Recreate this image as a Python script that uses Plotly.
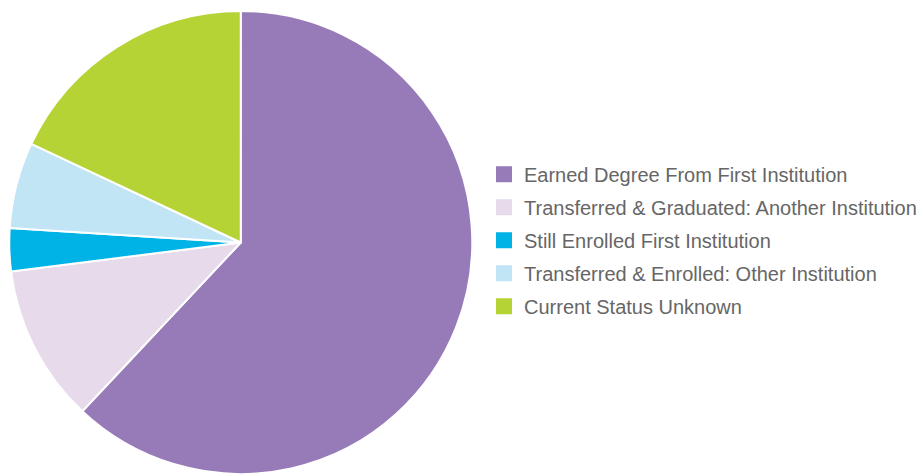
import plotly.graph_objects as go

labels = [
    "Earned Degree From First Institution",
    "Transferred & Graduated: Another Institution",
    "Still Enrolled First Institution",
    "Transferred & Enrolled: Other Institution",
    "Current Status Unknown",
]
values = [62, 11, 3, 6, 18]
colors = ["#967BB8", "#E6DAEB", "#00B3E6", "#C1E5F5", "#B5D334"]

fig = go.Figure(
    go.Pie(
        labels=labels,
        values=values,
        sort=False,
        direction="clockwise",
        rotation=0,
        textinfo="none",
        showlegend=False,
        marker=dict(colors=colors, line=dict(color="white", width=2)),
        domain=dict(x=[0, 0.5274], y=[0, 1]),
    )
)
# legend entries (square swatches) matching the slices
for lab, col in zip(labels, colors):
    fig.add_trace(
        go.Scatter(
            x=[None], y=[None], mode="markers", name=lab, legendgroup=lab,
            marker=dict(symbol="square", size=16, color=col),
            hoverinfo="skip",
        )
    )
fig.update_xaxes(visible=False)
fig.update_yaxes(visible=False)
fig.update_layout(
    width=922,
    height=474,
    margin=dict(l=0, r=0, t=11, b=0),
    paper_bgcolor="white",
    plot_bgcolor="white",
    showlegend=True,
    legend=dict(
        x=0.5303,
        xanchor="left",
        y=0.505,
        yanchor="middle",
        tracegroupgap=4,
        traceorder="grouped",
        font=dict(family="Liberation Sans, Arial, sans-serif", size=20, color="#666666"),
        bgcolor="rgba(0,0,0,0)",
    ),
)
fig.write_html("out.html")
